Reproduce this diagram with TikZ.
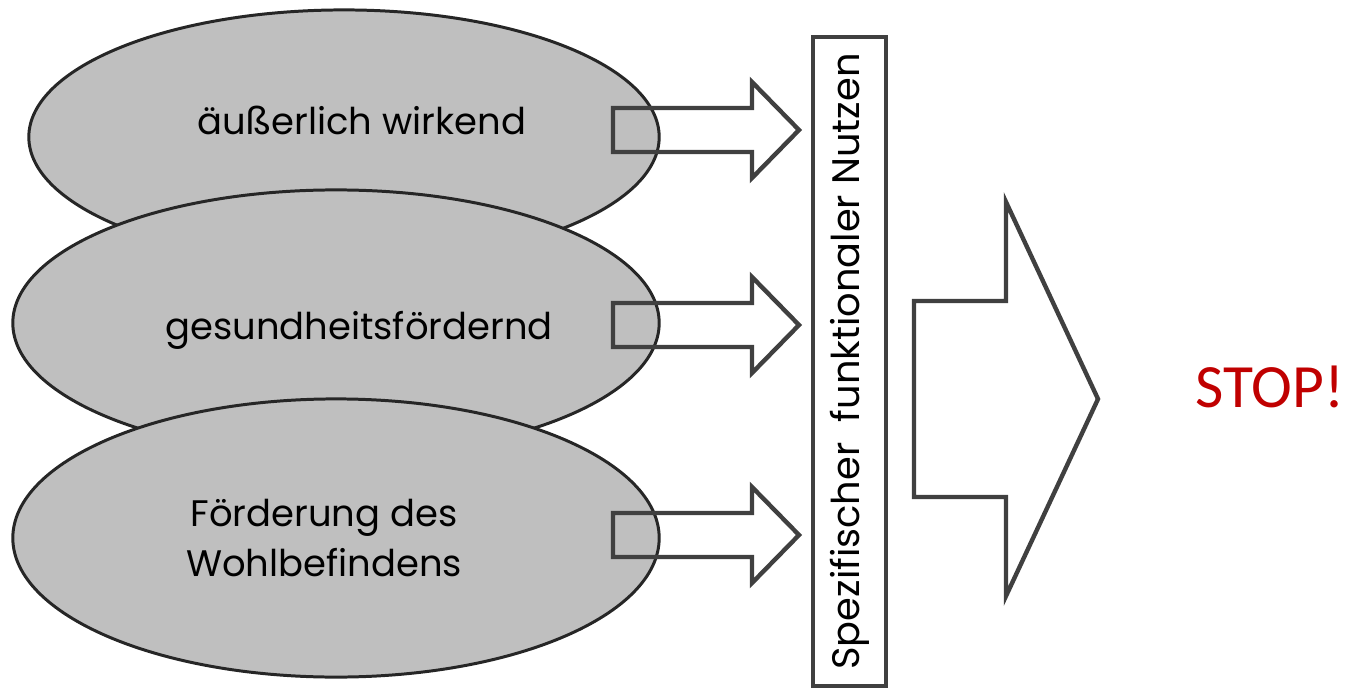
\documentclass[tikz,border=0pt]{standalone}
\usepackage{fontspec}
\setmainfont{Poppins}
\newfontfamily\stopfont{Carlito}
\usetikzlibrary{shapes.geometric}

\definecolor{blobgray}{HTML}{BFBFBF}
\definecolor{edgegray}{HTML}{404040}
\definecolor{stopred}{HTML}{C00000}

\tikzset{
  blob/.style={ellipse, draw=black!85, line width=0.85pt, fill=blobgray, inner sep=0pt},
  blobtext/.style={font=\fontsize{10.5}{14}\selectfont, align=center},
  blockarrow/.style={draw=edgegray, line width=1.25pt, line join=miter},
  benefit/.style={draw=edgegray, line width=1.25pt, fill=white, rotate=90,
    inner sep=2pt, font=\fontsize{10.9}{13}\selectfont}
}

\begin{document}
\begin{tikzpicture}[x=0.01cm,y=-0.01cm]
  \useasboundingbox (0,0) rectangle (1346,688);

  % the three ellipses, later ones on top
  \node[blob, minimum width=6.30cm, minimum height=2.54cm] (e1) at (344,137) {};
  \node[blob, minimum width=6.46cm, minimum height=2.66cm] (e2) at (336,323) {};
  \node[blob, minimum width=6.46cm, minimum height=2.78cm] (e3) at (336,538) {};

  \node[blobtext] (t1) at (362,120) {äußerlich wirkend};
  \node[blobtext] (t2) at (359,330) {gesundheitsfördernd};
  \node[blobtext] (t3) at (324,538) {Förderung des\\Wohlbefindens};

  % small arrows into the box
  \foreach \y in {130,325,535}
    \draw[blockarrow] (613,\y-22) -- (752,\y-22) -- (752,\y-48) -- (799,\y)
      -- (752,\y+48) -- (752,\y+22) -- (613,\y+22) -- cycle;

  \node[benefit, minimum width=6.49cm, minimum height=0.73cm] (nutzen) at (849.5,361.5)
    {Spezifischer\ \ funktionaler Nutzen};

  % big arrow
  \draw[blockarrow] (914,301) -- (1006,301) -- (1006,202) -- (1098,399)
    -- (1006,596) -- (1006,497) -- (914,497) -- cycle;

  \node[anchor=base west, text=stopred, font=\stopfont\fontsize{17.5}{20}\selectfont,
    inner sep=0pt] (stop) at (1195,407) {STOP!};
\end{tikzpicture}
\end{document}
